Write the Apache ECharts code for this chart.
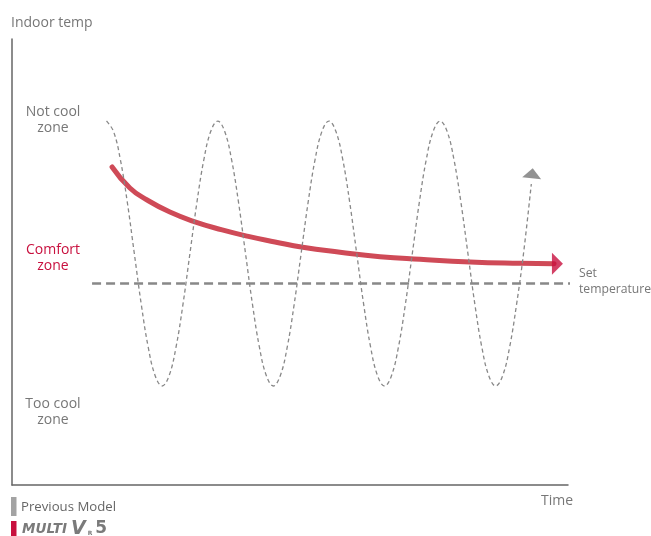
<!DOCTYPE html>
<html>
<head>
<meta charset="utf-8">
<script src="https://cdn.jsdelivr.net/npm/echarts@6/dist/echarts.min.js"></script>
<style>
  html, body { margin: 0; padding: 0; background: #ffffff; }
  #chart { width: 651px; height: 536px; }
</style>
</head>
<body>
<div id="chart"></div>
<script>
// ---- Data (time 0..100, indoor temp 0..100) ----
var previousModelTime = [
  17, 18.25, 19.5, 20.75, 22, 23.25, 24.5, 25.75, 27, 28.25, 29.5, 30.75, 32, 33.25, 34.5, 35.75,
  37, 38.25, 39.5, 40.75, 42, 43.25, 44.5, 45.75, 47, 48.25, 49.5, 50.75, 52, 53.25, 54.5, 55.75,
  57, 58.25, 59.5, 60.75, 62, 63.25, 64.5, 65.75, 67, 68.25, 69.5, 70.75, 72, 73.25, 74.5, 75.75,
  77, 78.25, 79.5, 80.75, 82, 83.25, 84.5, 85.75, 87, 88.25, 89.5, 90.75, 92, 93.4
];
var previousModelTemp = [
  81.6, 79.3, 72.9, 63.3, 51.9, 40.5, 30.9, 24.5, 22.2, 24.5, 30.9, 40.5, 51.9, 63.3, 72.9, 79.3,
  81.6, 79.3, 72.9, 63.3, 51.9, 40.5, 30.9, 24.5, 22.2, 24.5, 30.9, 40.5, 51.9, 63.3, 72.9, 79.3,
  81.6, 79.3, 72.9, 63.3, 51.9, 40.5, 30.9, 24.5, 22.2, 24.5, 30.9, 40.5, 51.9, 63.3, 72.9, 79.3,
  81.6, 79.3, 72.9, 63.3, 51.9, 40.5, 30.9, 24.5, 22.2, 24.5, 30.9, 40.5, 51.9, 67.5
];
var previousArrow = [93.56, 69.9];

var multiVTime = [18.0, 21.2, 24.3, 28.4, 32.9, 37.8, 42.3, 47.3, 52.3, 59.0, 66.2, 73.4, 82.4, 91.4, 97.5];
var multiVTemp = [71.3, 66.6, 63.9, 61.2, 59.0, 57.2, 55.8, 54.5, 53.3, 52.2, 51.2, 50.6, 50.0, 49.7, 49.6];
var multiVArrow = [98.1, 49.6];

var setTempTime = [14.4, 100.7];
var setTempValue = 45.2;

var zoneLabels = ['Not cool\nzone', 'Comfort\nzone', 'Too cool\nzone'];
var axisNames = ['Indoor temp', 'Time'];
var setTempLabel = 'Set\ntemperature';
var legendNames = ['Previous Model', 'MULTI V 5'];

function zip(xs, ys) { return xs.map(function (x, i) { return [x, ys[i]]; }); }

var chart = echarts.init(document.getElementById('chart'), null, { renderer: 'canvas' });
var FONT = '"Open Sans", "Noto Sans", sans-serif';
var GRAY_TXT = '#777777';
var RED = '#c8103e';

var option = {
  backgroundColor: '#ffffff',
  animation: false,
  grid: { left: 12, top: 39, width: 556, height: 446, containLabel: false, outerBoundsMode: 'none' },
  xAxis: {
    type: 'value', min: 0, max: 100,
    axisLine: { show: true, lineStyle: { color: '#666666', width: 1.5 } },
    axisTick: { show: false }, axisLabel: { show: false }, splitLine: { show: false }
  },
  yAxis: {
    type: 'value', min: 0, max: 100,
    axisLine: { show: true, lineStyle: { color: '#666666', width: 1.5 } },
    axisTick: { show: false }, axisLabel: { show: false }, splitLine: { show: false }
  },
  series: [
    {
      name: 'Set temperature', type: 'line', z: 1, clip: false,
      data: setTempTime.map(function (t) { return [t, setTempValue]; }),
      symbol: 'none',
      lineStyle: { color: '#888888', width: 2.5, type: [9, 5] }
    },
    {
      name: legendNames[1], type: 'line', z: 2, clip: false, smooth: 0.5,
      data: zip(multiVTime, multiVTemp),
      symbol: 'none',
      lineStyle: { color: '#cf4a57', width: 5, cap: 'round' }
    },
    {
      name: legendNames[1] + ' arrow', type: 'scatter', z: 3, clip: false,
      data: [multiVArrow],
      symbol: 'triangle', symbolSize: [22, 11], symbolRotate: -90,
      itemStyle: { color: RED }
    },
    {
      name: legendNames[0], type: 'line', z: 4, clip: false, smooth: 0.4,
      data: zip(previousModelTime, previousModelTemp),
      symbol: 'none',
      lineStyle: { color: '#888888', width: 1.3, type: [4, 3] }
    },
    {
      name: legendNames[0] + ' arrow', type: 'scatter', z: 5, clip: false,
      data: [previousArrow],
      symbol: 'triangle', symbolSize: [19, 10], symbolRotate: -6,
      itemStyle: { color: '#777777' }
    }
  ],
  graphic: [
    { type: 'text', x: 11, y: 23, style: { text: axisNames[0], font: '14px ' + FONT, fill: GRAY_TXT, align: 'left', verticalAlign: 'middle' } },
    { type: 'text', x: 557, y: 501, style: { text: axisNames[1], font: '14px ' + FONT, fill: GRAY_TXT, align: 'center', verticalAlign: 'middle' } },
    { type: 'text', x: 53, y: 120, style: { text: zoneLabels[0], font: '14px ' + FONT, lineHeight: 16, fill: GRAY_TXT, align: 'center', verticalAlign: 'middle' } },
    { type: 'text', x: 53, y: 258, style: { text: zoneLabels[1], font: '14px ' + FONT, lineHeight: 16, fill: RED, align: 'center', verticalAlign: 'middle' } },
    { type: 'text', x: 53, y: 412.5, style: { text: zoneLabels[2], font: '14px ' + FONT, lineHeight: 16, fill: GRAY_TXT, align: 'center', verticalAlign: 'middle' } },
    { type: 'text', x: 579, y: 281.5, style: { text: setTempLabel, font: '12.2px ' + FONT, lineHeight: 16, fill: GRAY_TXT, align: 'left', verticalAlign: 'middle' } },
    // legend
    { type: 'rect', shape: { x: 11, y: 497, width: 5.5, height: 19 }, style: { fill: '#a3a3a3' } },
    { type: 'text', x: 21, y: 507, style: { text: legendNames[0], font: '13.2px ' + FONT, fill: '#666666', align: 'left', verticalAlign: 'middle' } },
    { type: 'rect', shape: { x: 11, y: 521, width: 5.5, height: 15 }, style: { fill: RED } },
    {
      type: 'text', x: 22, y: 529,
      style: {
        text: '{a|MULTI}{sp| }{b|V}{c|R}{d|5}',
        align: 'left', verticalAlign: 'middle',
        rich: {
          a: { font: 'italic bold 13.5px "DejaVu Sans", sans-serif', fill: '#7a7a7a' },
          sp: { font: '12px "DejaVu Sans", sans-serif', fill: '#7a7a7a', width: 4 },
          b: { font: 'italic bold 19px "DejaVu Sans", sans-serif', fill: '#7a7a7a' },
          c: { font: 'bold 6px "DejaVu Sans", sans-serif', fill: '#7a7a7a', padding: [9, 3, 0, 2] },
          d: { font: 'bold 17px "DejaVu Sans", sans-serif', fill: '#7a7a7a' }
        }
      }
    }
  ]
};
chart.setOption(option);
</script>
</body>
</html>
